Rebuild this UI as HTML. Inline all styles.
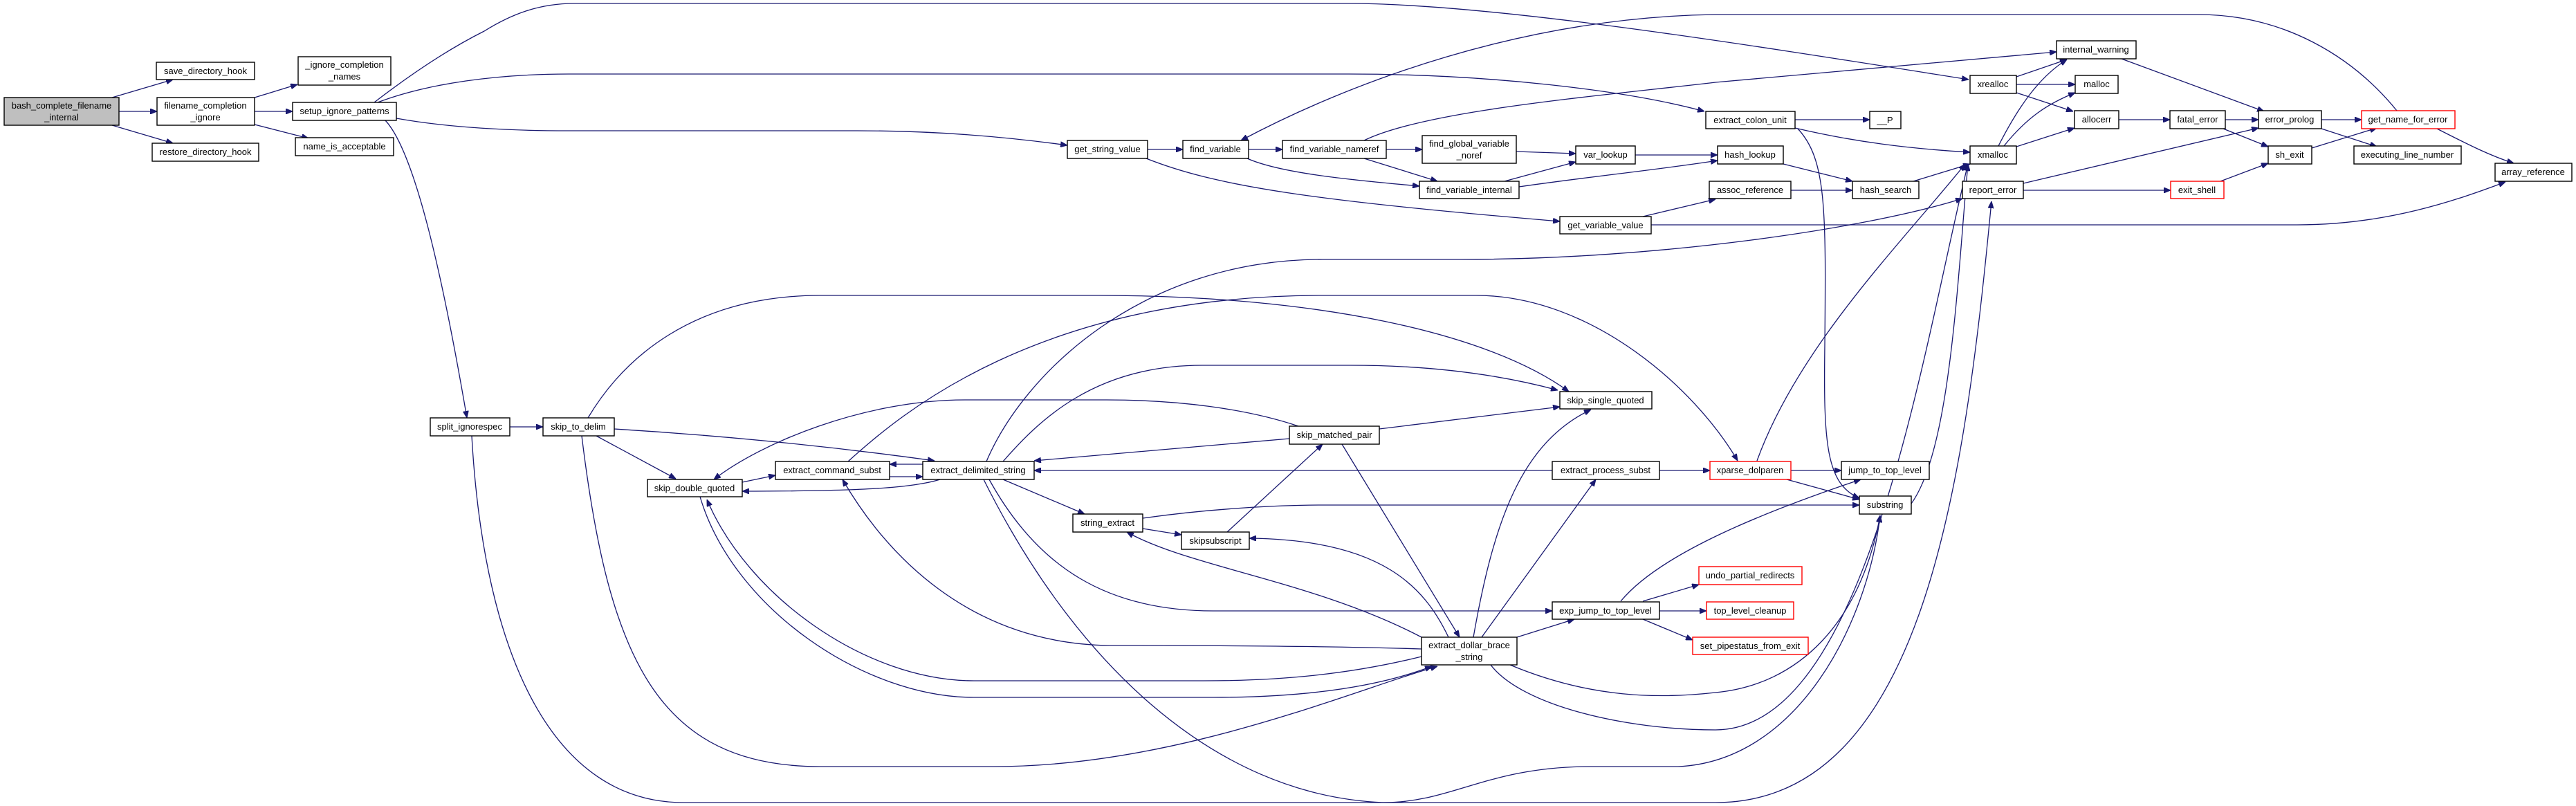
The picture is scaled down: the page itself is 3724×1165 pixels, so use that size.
<!DOCTYPE html>
<html><head><meta charset="utf-8"><style>
html,body{margin:0;padding:0;background:#fff;}
svg{display:block;}
text{font-family:"Liberation Sans",sans-serif;font-size:13px;fill:#000;text-anchor:middle;}
.n{fill:#fff;stroke:#000;stroke-width:1.4;}
.g{fill:#bfbfbf;stroke:#000;stroke-width:1.4;}
.r{fill:#fff;stroke:#ff0000;stroke-width:1.4;}
.e{fill:none;stroke:#191970;stroke-width:1.3;marker-end:url(#a);}
</style></head><body>
<svg width="3724" height="1165" viewBox="0 0 3724 1165" xmlns="http://www.w3.org/2000/svg">
<defs><marker id="a" viewBox="0 0 10 8" refX="10" refY="4" markerWidth="10" markerHeight="8" markerUnits="userSpaceOnUse" orient="auto"><path d="M0,0 L10,4 L0,8 z" fill="#191970" stroke="#191970"/></marker></defs>
<g>
<path class="e" d="M162,141 L250,115"/>
<path class="e" d="M172,161 L227,161"/>
<path class="e" d="M162,181 L250,207"/>
<path class="e" d="M368,141 L430,122"/>
<path class="e" d="M368,161 L423,161"/>
<path class="e" d="M368,180 L446,200"/>
<path class="e" d="M541,148 C580,118 640,75 700,45 C740,20 780,5 830,5 L1950,5 C2150,5 2500,60 2846,115"/>
<path class="e" d="M546,148 C620,120 720,107 822,107 L1950,107 C2150,107 2350,130 2464,161"/>
<path class="e" d="M573,171 C640,183 720,189 822,189 L1240,189 C1350,189 1450,197 1543,210"/>
<path class="e" d="M557,174 C600,220 640,400 675,604"/>
<path class="e" d="M1659,216 L1710,216"/>
<path class="e" d="M1657,229 C1760,270 1900,290 2255,320"/>
<path class="e" d="M1805,216 L1854,216"/>
<path class="e" d="M1803,229 C1850,250 1950,260 2052,269"/>
<path class="e" d="M2004,216 L2056,216"/>
<path class="e" d="M1972,229 L2078,262"/>
<path class="e" d="M1972,203 C2060,160 2300,140 2480,119 L2973,75"/>
<path class="e" d="M2192,219 L2278,222"/>
<path class="e" d="M2175,262 L2278,234"/>
<path class="e" d="M2196,270 C2300,255 2400,245 2483,232"/>
<path class="e" d="M2364,224 L2483,224"/>
<path class="e" d="M3465,160 C3400,80 3300,21 3178,21 L2480,21 C2200,25 1950,120 1794,203"/>
<path class="e" d="M2595,173 L2703,173"/>
<path class="e" d="M2595,185 C2680,205 2760,215 2848,220"/>
<path class="e" d="M2599,186 C2640,230 2640,300 2638,500 C2636,640 2640,700 2688,720"/>
<path class="e" d="M2578,237 L2678,262"/>
<path class="e" d="M2589,275 L2678,275"/>
<path class="e" d="M2375,313 L2480,288"/>
<path class="e" d="M2387,325 L3321,325 C3450,325 3550,290 3622,263"/>
<path class="e" d="M2766,262 L2848,237"/>
<path class="e" d="M2915,111 L2988,86"/>
<path class="e" d="M2915,122 L3000,122"/>
<path class="e" d="M2915,134 L2997,161"/>
<path class="e" d="M2889,211 C2920,150 2950,110 2988,86"/>
<path class="e" d="M2897,211 C2930,170 2960,150 3000,134"/>
<path class="e" d="M2915,212 L2999,185"/>
<path class="e" d="M3067,85 L3273,161"/>
<path class="e" d="M3063,173 L3137,173"/>
<path class="e" d="M3217,173 L3265,173"/>
<path class="e" d="M3214,186 L3279,212"/>
<path class="e" d="M3356,173 L3414,173"/>
<path class="e" d="M3356,186 L3436,212"/>
<path class="e" d="M3342,214 L3436,185"/>
<path class="e" d="M3523,186 C3570,210 3600,225 3634,236"/>
<path class="e" d="M2925,265 L3265,185"/>
<path class="e" d="M2925,275 L3138,275"/>
<path class="e" d="M3210,262 L3279,236"/>
<path class="e" d="M1426,667 C1480,540 1650,375 1912,375 L2110,375 C2400,375 2700,330 2837,287"/>
<path class="e" d="M850,604 C900,520 1000,427 1186,427 L1588,427 C1900,427 2150,480 2268,566"/>
<path class="e" d="M1226,667 C1300,600 1500,427 1912,427 L2134,427 C2300,427 2450,560 2512,666"/>
<path class="e" d="M1450,667 C1500,610 1580,528 1738,528 L1952,528 C2100,528 2200,550 2252,564"/>
<path class="e" d="M1994,620 L2255,588"/>
<path class="e" d="M1864,634 L1495,666"/>
<path class="e" d="M1940,642 L2110,921"/>
<path class="e" d="M2244,680 L1495,680"/>
<path class="e" d="M2399,680 L2472,680"/>
<path class="e" d="M1334,671 L1286,671"/>
<path class="e" d="M1286,689 L1334,689"/>
<path class="e" d="M1073,697 L1121,687"/>
<path class="e" d="M1359,693 C1320,705 1250,710 1073,710"/>
<path class="e" d="M1877,616 C1800,590 1700,578 1600,578 L1395,578 C1250,578 1100,640 1032,693"/>
<path class="e" d="M888,620 C1050,630 1200,645 1351,666"/>
<path class="e" d="M862,630 L977,692"/>
<path class="e" d="M737,617 L785,617"/>
<path class="e" d="M1450,693 L1568,743"/>
<path class="e" d="M1652,764 L1708,773"/>
<path class="e" d="M1652,749 C1750,735 1850,730 1912,730 L2688,730"/>
<path class="e" d="M1774,769 L1912,642"/>
<path class="e" d="M2094,921 C2060,850 2000,780 1806,778"/>
<path class="e" d="M2055,921 C1900,840 1720,820 1629,769"/>
<path class="e" d="M2130,921 C2160,750 2200,640 2300,592"/>
<path class="e" d="M2142,921 L2307,693"/>
<path class="e" d="M2193,921 L2276,895"/>
<path class="e" d="M1430,693 C1500,820 1600,883 1754,883 L2244,883"/>
<path class="e" d="M2055,949 C1950,975 1850,984 1740,984 L1408,984 C1250,984 1080,860 1022,722"/>
<path class="e" d="M1012,718 C1060,880 1250,1008 1408,1008 L1754,1008 C1900,1008 2000,990 2070,963"/>
<path class="e" d="M2055,938 C1900,933 1700,933 1604,933 C1400,930 1280,800 1218,693"/>
<path class="e" d="M682,630 C700,950 800,1160 988,1160 L2480,1160 C2780,1160 2840,700 2879,291"/>
<path class="e" d="M841,630 C880,950 950,1108 1186,1108 L1437,1108 C1700,1108 1950,1000 2078,963"/>
<path class="e" d="M1422,693 C1550,950 1750,1150 2000,1160 C2100,1160 2150,1108 2300,1108 L2426,1108 C2600,1100 2700,900 2718,745"/>
<path class="e" d="M2183,961 C2300,1010 2400,1010 2480,1001 C2600,990 2690,900 2718,745"/>
<path class="e" d="M2155,961 C2200,1020 2350,1055 2480,1055 C2700,1055 2780,500 2845,237"/>
<path class="e" d="M2763,728 C2820,650 2830,400 2845,237"/>
<path class="e" d="M2540,666 C2600,500 2750,350 2841,237"/>
<path class="e" d="M2589,680 L2662,680"/>
<path class="e" d="M2583,693 L2688,722"/>
<path class="e" d="M2343,869 C2400,800 2550,740 2690,693"/>
<path class="e" d="M2375,869 L2456,845"/>
<path class="e" d="M2399,883 L2467,883"/>
<path class="e" d="M2375,895 L2447,925"/>
</g>
<g>
<rect class="g" x="6" y="141" width="166" height="40"/><text x="89" y="157">bash_complete_filename</text><text x="89" y="174">_internal</text>
<rect class="n" x="226" y="90" width="142" height="25"/><text x="297" y="107">save_directory_hook</text>
<rect class="n" x="227" y="141" width="141" height="40"/><text x="297" y="157">filename_completion</text><text x="297" y="174">_ignore</text>
<rect class="n" x="220" y="207" width="154" height="26"/><text x="297" y="224">restore_directory_hook</text>
<rect class="n" x="431" y="82" width="134" height="41"/><text x="498" y="98">_ignore_completion</text><text x="498" y="115">_names</text>
<rect class="n" x="423" y="148" width="150" height="26"/><text x="498" y="165">setup_ignore_patterns</text>
<rect class="n" x="427" y="199" width="142" height="26"/><text x="498" y="216">name_is_acceptable</text>
<rect class="n" x="1543" y="203" width="116" height="26"/><text x="1601" y="220">get_string_value</text>
<rect class="n" x="1710" y="203" width="95" height="26"/><text x="1757" y="220">find_variable</text>
<rect class="n" x="1854" y="203" width="150" height="26"/><text x="1929" y="220">find_variable_nameref</text>
<rect class="n" x="2056" y="196" width="136" height="40"/><text x="2124" y="212">find_global_variable</text><text x="2124" y="229">_noref</text>
<rect class="n" x="2278" y="211" width="86" height="26"/><text x="2321" y="228">var_lookup</text>
<rect class="n" x="2052" y="262" width="144" height="25"/><text x="2124" y="279">find_variable_internal</text>
<rect class="n" x="2255" y="313" width="132" height="25"/><text x="2321" y="330">get_variable_value</text>
<rect class="n" x="2255" y="566" width="133" height="25"/><text x="2321" y="583">skip_single_quoted</text>
<rect class="n" x="2466" y="161" width="129" height="25"/><text x="2530" y="178">extract_colon_unit</text>
<rect class="n" x="2703" y="161" width="45" height="25"/><text x="2725" y="178">__P</text>
<rect class="n" x="2483" y="211" width="95" height="26"/><text x="2530" y="228">hash_lookup</text>
<rect class="n" x="2471" y="262" width="118" height="25"/><text x="2530" y="279">assoc_reference</text>
<rect class="n" x="2678" y="262" width="96" height="25"/><text x="2726" y="279">hash_search</text>
<rect class="n" x="2973" y="59" width="115" height="26"/><text x="3030" y="76">internal_warning</text>
<rect class="n" x="2848" y="109" width="67" height="26"/><text x="2881" y="126">xrealloc</text>
<rect class="n" x="3000" y="109" width="62" height="26"/><text x="3031" y="126">malloc</text>
<rect class="n" x="2999" y="160" width="64" height="26"/><text x="3031" y="177">allocerr</text>
<rect class="n" x="3137" y="160" width="80" height="26"/><text x="3177" y="177">fatal_error</text>
<rect class="n" x="3265" y="160" width="91" height="26"/><text x="3310" y="177">error_prolog</text>
<rect class="r" x="3414" y="160" width="135" height="26"/><text x="3481" y="177">get_name_for_error</text>
<rect class="n" x="2848" y="211" width="67" height="26"/><text x="2881" y="228">xmalloc</text>
<rect class="n" x="3279" y="211" width="63" height="26"/><text x="3310" y="228">sh_exit</text>
<rect class="n" x="3403" y="211" width="155" height="26"/><text x="3480" y="228">executing_line_number</text>
<rect class="n" x="3607" y="236" width="111" height="26"/><text x="3662" y="253">array_reference</text>
<rect class="n" x="2837" y="262" width="88" height="25"/><text x="2881" y="279">report_error</text>
<rect class="r" x="3138" y="262" width="77" height="25"/><text x="3176" y="279">exit_shell</text>
<rect class="n" x="622" y="604" width="115" height="26"/><text x="679" y="621">split_ignorespec</text>
<rect class="n" x="785" y="604" width="103" height="26"/><text x="836" y="621">skip_to_delim</text>
<rect class="n" x="936" y="693" width="137" height="25"/><text x="1004" y="710">skip_double_quoted</text>
<rect class="n" x="1121" y="667" width="165" height="26"/><text x="1203" y="684">extract_command_subst</text>
<rect class="n" x="1334" y="667" width="161" height="26"/><text x="1414" y="684">extract_delimited_string</text>
<rect class="n" x="1864" y="616" width="130" height="26"/><text x="1929" y="633">skip_matched_pair</text>
<rect class="n" x="2244" y="667" width="155" height="26"/><text x="2321" y="684">extract_process_subst</text>
<rect class="n" x="1551" y="743" width="101" height="26"/><text x="1601" y="760">string_extract</text>
<rect class="n" x="1708" y="769" width="98" height="25"/><text x="1757" y="786">skipsubscript</text>
<rect class="n" x="2055" y="921" width="138" height="40"/><text x="2124" y="937">extract_dollar_brace</text><text x="2124" y="954">_string</text>
<rect class="n" x="2244" y="870" width="155" height="25"/><text x="2321" y="887">exp_jump_to_top_level</text>
<rect class="r" x="2472" y="667" width="117" height="26"/><text x="2530" y="684">xparse_dolparen</text>
<rect class="n" x="2662" y="667" width="127" height="26"/><text x="2725" y="684">jump_to_top_level</text>
<rect class="n" x="2688" y="717" width="75" height="26"/><text x="2725" y="734">substring</text>
<rect class="r" x="2456" y="819" width="149" height="26"/><text x="2530" y="836">undo_partial_redirects</text>
<rect class="r" x="2467" y="870" width="126" height="25"/><text x="2530" y="887">top_level_cleanup</text>
<rect class="r" x="2447" y="921" width="167" height="25"/><text x="2530" y="938">set_pipestatus_from_exit</text>
</g>
</svg>
</body></html>
